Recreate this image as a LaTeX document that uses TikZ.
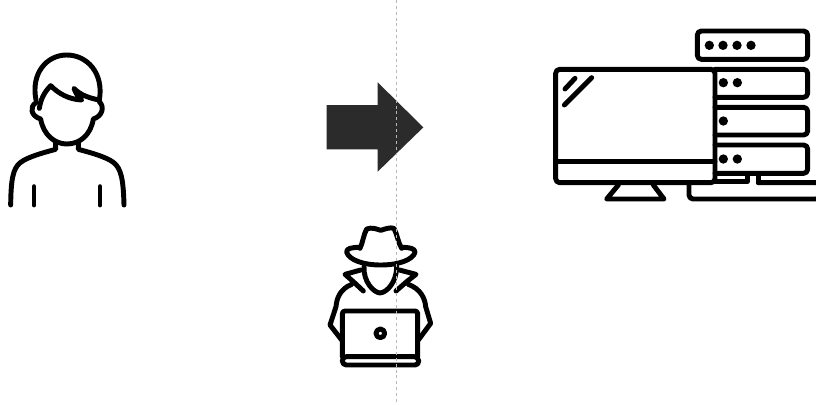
\documentclass[tikz,border=0pt]{standalone}
\begin{document}
\begin{tikzpicture}[x=0.75pt,y=-0.75pt,line join=round,line cap=round,
  icon/.style={draw=black,line width=3.7pt,fill=none},
  zoomA/.style={shift={(0,40)},x=0.25pt,y=-0.25pt},
  zoomB/.style={shift={(310,215)},x=0.25pt,y=-0.25pt},
  zoomC/.style={shift={(540,20)},x=0.25pt,y=-0.25pt},
  zoomD/.style={shift={(310,70)},x=0.25pt,y=-0.25pt},
  blackdot/.style={fill=black,draw=none}]
\useasboundingbox (0,0) rectangle (816,404);
\fill[white] (0,0) rectangle (816,404);
% person
\begin{scope}[zoomA]
\draw[icon] (108,180) .. controls (92,100) and (140,45) .. (200,45) .. controls (262,45) and (312,100) .. (298,180);
\draw[icon] (118,205) .. controls (122,180) and (130,160) .. (152,137) .. controls (175,160) and (205,178) .. (245,180) .. controls (232,168) and (225,155) .. (222,145) .. controls (240,165) and (270,175) .. (298,180);
\draw[icon] (108,188) .. controls (88,200) and (92,228) .. (122,237) .. controls (130,285) and (165,312) .. (200,312) .. controls (240,312) and (272,285) .. (280,237) .. controls (308,228) and (314,200) .. (298,185);
\draw[icon] (167,308) -- (167,328) .. controls (130,338) and (85,350) .. (62,367) .. controls (38,385) and (33,420) .. (32,495);
\draw[icon] (235,308) -- (235,328) .. controls (272,338) and (317,350) .. (340,367) .. controls (364,385) and (370,420) .. (372,495);
\draw[icon] (102,440) -- (102,495);
\draw[icon] (300,440) -- (300,495);
\end{scope}
% arrow
\begin{scope}[zoomD]
\fill[fill=black!83] (50,105) -- (203,105) -- (203,37) -- (340,172) -- (203,305) -- (203,238) -- (50,238) -- cycle;
\end{scope}
% hacker
\begin{scope}[zoomB]
\draw[icon] (150,100) .. controls (158,85) and (160,60) .. (170,42) .. controls (185,36) and (200,42) .. (212,46) .. controls (225,42) and (240,36) .. (252,40) .. controls (262,60) and (265,85) .. (275,100);
\draw[icon] (150,97) .. controls (125,97) and (108,100) .. (110,112) .. controls (118,135) and (160,150) .. (212,150) .. controls (265,150) and (308,135) .. (315,112) .. controls (316,100) and (298,97) .. (275,97);
\draw[icon] (162,155) .. controls (160,200) and (190,232) .. (210,234) .. controls (232,232) and (260,200) .. (260,155);
\draw[icon] (152,165) -- (105,178) -- (130,200) -- (160,228);
\draw[icon] (268,165) -- (318,178) -- (290,200) -- (258,228);
\draw[icon] (125,208) .. controls (90,222) and (80,250) .. (78,275) -- (60,330) -- (95,375);
\draw[icon] (295,208) .. controls (332,222) and (345,250) .. (347,275) -- (362,325) -- (325,375);
\draw[icon,rounded corners=2pt] (97,425) -- (97,288) -- (323,288) -- (323,425);
\draw[icon,rounded corners=3pt] (97,425) -- (325,425) -- (327,450) -- (97,450) -- cycle;
\draw[icon] (211,355) circle (13);
\end{scope}
% computer
\begin{scope}[zoomC]
\draw[icon,rounded corners=3pt] (472,33) rectangle (803,118);
\foreach \dx in {508,549,591,633} \fill[blackdot] (\dx,76) circle (14);
\draw[icon,rounded corners=3pt] (525,148) -- (803,148) -- (803,232) -- (525,232);
\draw[icon,rounded corners=3pt] (525,262) -- (803,262) -- (803,345) -- (525,345);
\draw[icon,rounded corners=3pt] (525,375) -- (803,375) -- (803,460) -- (525,460);
\foreach \px/\py in {550/188,592/188,550/303,550/417,592/417} \fill[blackdot] (\px,\py) circle (14);
\draw[icon,rounded corners=3pt] (47,148) rectangle (525,488);
\draw[icon] (47,425) -- (525,425);
\draw[icon] (75,207) -- (105,175);
\draw[icon] (73,255) -- (155,173);
\draw[icon] (235,495) -- (200,537) -- (372,537) -- (340,495);
\draw[icon] (525,485) -- (622,485) -- (622,462);
\draw[icon] (655,462) -- (655,488);
\draw[icon,rounded corners=3pt] (447,495) -- (447,537) -- (840,537) -- (840,488) -- (655,488);
\end{scope}
% dashed centre line
\draw[draw=black!28,line width=0.6pt,line cap=butt,dash pattern=on 2.2pt off 2.2pt] (396,0) -- (396,404);
\end{tikzpicture}
\end{document}
